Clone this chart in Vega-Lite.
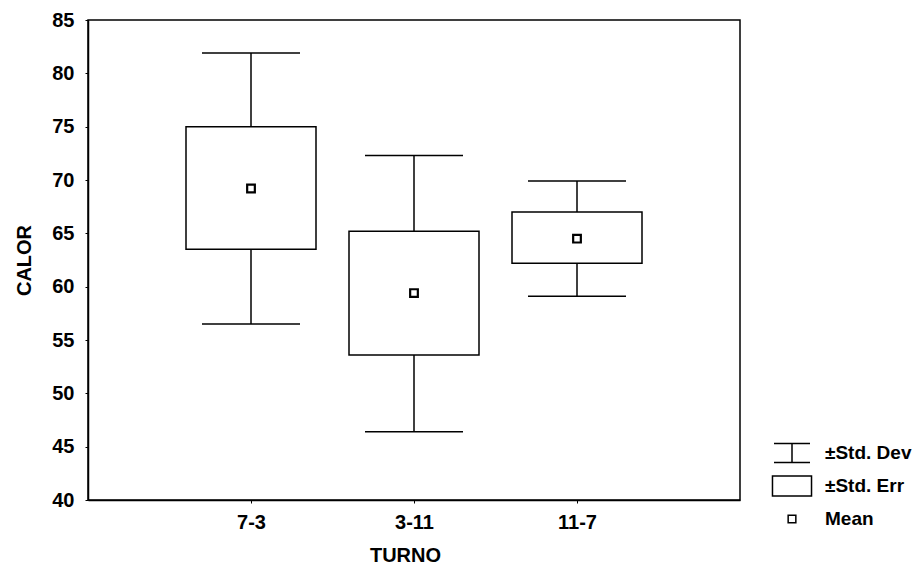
{
  "$schema": "https://vega.github.io/schema/vega-lite/v6.json",
  "autosize": "none",
  "width": 652,
  "height": 480,
  "padding": {"left": 88, "top": 20, "right": 184, "bottom": 71},
  "background": "white",
  "config": {
    "font": "Liberation Sans, Arial",
    "view": {"stroke": "black", "strokeWidth": 1.5},
    "axis": {
      "labelFont": "Liberation Sans, Arial",
      "titleFont": "Liberation Sans, Arial",
      "labelFontSize": 20,
      "labelFontWeight": "bold",
      "titleFontSize": 20,
      "titleFontWeight": "bold",
      "labelColor": "black",
      "titleColor": "black",
      "domainColor": "black",
      "domainWidth": 1.5,
      "tickColor": "black",
      "tickSize": 3,
      "grid": false
    }
  },
  "data": {
    "values": [
      {"turno": "7-3", "mean": 69.2, "se_lo": 63.5, "se_hi": 75.0, "sd_lo": 56.5, "sd_hi": 81.9},
      {"turno": "3-11", "mean": 59.4, "se_lo": 53.6, "se_hi": 65.2, "sd_lo": 46.4, "sd_hi": 72.3},
      {"turno": "11-7", "mean": 64.5, "se_lo": 62.2, "se_hi": 67.0, "sd_lo": 59.1, "sd_hi": 69.9}
    ]
  },
  "encoding": {
    "x": {
      "field": "turno",
      "type": "nominal",
      "sort": null,
      "scale": {"type": "point", "padding": 1},
      "axis": {"title": "TURNO", "labelAngle": 0, "labelPadding": 9, "titlePadding": 13, "titleX": 317, "titleAlign": "center"}
    }
  },
  "layer": [
    {
      "mark": {"type": "rule", "color": "black", "strokeWidth": 1.5},
      "encoding": {
        "y": {
          "field": "sd_lo",
          "type": "quantitative",
          "scale": {"domain": [40, 85], "nice": false, "zero": false},
          "axis": {"title": "CALOR", "values": [40, 45, 50, 55, 60, 65, 70, 75, 80, 85], "labelPadding": 11, "titlePadding": 17}
        },
        "y2": {"field": "sd_hi"}
      }
    },
    {
      "mark": {"type": "tick", "color": "black", "thickness": 1.5, "size": 98, "opacity": 1, "orient": "horizontal"},
      "encoding": {"y": {"field": "sd_lo", "type": "quantitative"}}
    },
    {
      "mark": {"type": "tick", "color": "black", "thickness": 1.5, "size": 98, "opacity": 1, "orient": "horizontal"},
      "encoding": {"y": {"field": "sd_hi", "type": "quantitative"}}
    },
    {
      "mark": {"type": "bar", "width": 130, "fill": "white", "stroke": "black", "strokeWidth": 1.5, "opacity": 1},
      "encoding": {
        "y": {"field": "se_lo", "type": "quantitative"},
        "y2": {"field": "se_hi"}
      }
    },
    {
      "mark": {"type": "point", "filled": true, "fill": "white", "stroke": "black", "strokeWidth": 2.2, "size": 1024, "opacity": 1},
      "encoding": {
        "y": {"field": "mean", "type": "quantitative"},
        "shape": {
          "datum": "Mean",
          "type": "nominal",
          "scale": {
            "domain": ["±Std. Dev", "±Std. Err", "Mean"],
            "range": [
              "M-1.125,-0.6H1.125M0,-0.6V0.6M-1.125,0.6H1.125",
              "M-1.22,-0.62H1.22V0.62H-1.22Z",
              "M-0.24,-0.24H0.24V0.24H-0.24Z"
            ]
          },
          "legend": {
            "title": null,
            "orient": "none",
            "legendX": 687,
            "legendY": 416,
            "symbolSize": 1024,
            "labelFont": "Liberation Sans, Arial",
            "labelFontSize": 19,
            "labelFontWeight": "bold",
            "labelColor": "black",
            "labelOffset": 16,
            "rowPadding": 3,
            "encode": {
              "symbols": {
                "update": {
                  "fill": {"value": "white"},
                  "stroke": {"value": "black"},
                  "strokeWidth": {"value": 1.5},
                  "opacity": {"value": 1}
                }
              }
            }
          }
        }
      }
    }
  ]
}
